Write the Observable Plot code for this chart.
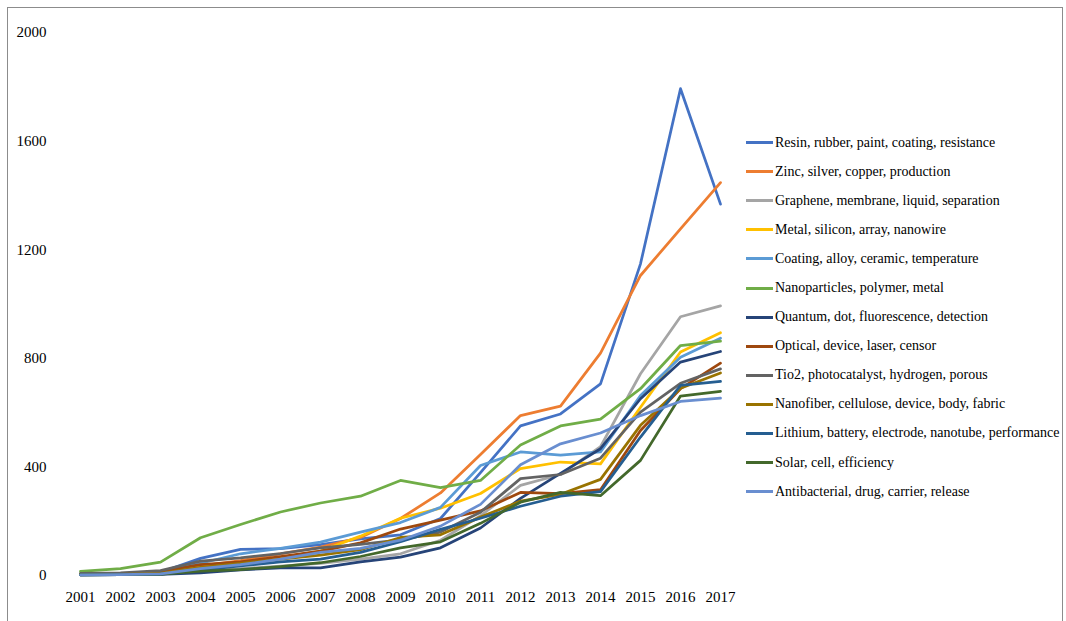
<!DOCTYPE html>
<html>
<head>
<meta charset="utf-8">
<script src="https://cdn.jsdelivr.net/npm/d3@7"></script>
<script src="https://cdn.jsdelivr.net/npm/@observablehq/plot@0.6"></script>
<style>
  html, body { margin: 0; padding: 0; background: #fff; }
  #wrap { position: relative; width: 1066px; height: 621px; overflow: hidden; font-family: "Liberation Serif", "Times New Roman", serif; }
  #frame { position: absolute; left: 7px; top: 7px; width: 1056px; height: 640px; border: 1.5px solid #8c8c8c; box-sizing: border-box; }
  #chart { position: absolute; left: 0; top: 0; }
  #legend { position: absolute; left: 746px; top: 128px; }
  .item { display: flex; align-items: center; height: 29.1px; font-size: 14px; color: #000; white-space: nowrap; }
  .sw { width: 27px; height: 3px; margin-right: 2px; }
</style>
</head>
<body>
<div id="wrap">
  <div id="frame"></div>
  <div id="chart"></div>
  <div id="legend"></div>
</div>
<script>
const years = [2001,2002,2003,2004,2005,2006,2007,2008,2009,2010,2011,2012,2013,2014,2015,2016,2017];
const yTicks = [0, 400, 800, 1200, 1600, 2000];

const seriesNames = [
  "Resin, rubber, paint, coating, resistance",
  "Zinc, silver, copper, production",
  "Graphene, membrane, liquid, separation",
  "Metal, silicon, array, nanowire",
  "Coating, alloy, ceramic, temperature",
  "Nanoparticles, polymer, metal",
  "Quantum, dot, fluorescence, detection",
  "Optical, device, laser, censor",
  "Tio2, photocatalyst, hydrogen, porous",
  "Nanofiber, cellulose, device, body, fabric",
  "Lithium, battery, electrode, nanotube, performance",
  "Solar, cell, efficiency",
  "Antibacterial, drug, carrier, release"
];
const seriesColors = ["#4472C4","#ED7D31","#A5A5A5","#FFC000","#5B9BD5","#70AD47","#264478","#9E480E","#636363","#997300","#255E91","#43682B","#698ED0"];

const resin         = [5,5,12,63,96,99,114,135,150,210,379,551,595,706,1148,1793,1368];
const zinc          = [5,5,15,35,55,80,105,140,210,304,446,589,624,819,1105,1277,1447];
const graphene      = [2,3,5,15,25,35,45,60,80,130,220,332,372,475,743,953,993];
const metal         = [3,4,8,30,45,65,90,145,211,248,302,394,418,411,620,823,894];
const coating       = [3,4,8,45,80,100,123,160,195,251,405,455,443,455,663,804,874];
const nanoparticles = [15,25,49,139,188,234,267,292,350,324,350,481,551,576,688,847,863];
const quantum       = [2,3,4,10,21,28,28,50,68,102,175,284,376,467,651,786,825];
const optical       = [5,6,15,40,50,70,90,120,171,204,238,306,302,316,534,688,782];
const tio2          = [8,10,18,53,65,81,102,115,131,160,233,357,372,432,602,708,761];
const nanofiber     = [3,4,8,30,45,60,75,95,140,150,215,274,299,354,553,690,746];
const lithium       = [2,3,5,20,35,50,60,85,125,170,211,255,292,309,510,700,715];
const solar         = [2,3,5,16,22,33,47,70,102,124,192,270,306,294,424,661,678];
const antibacterial = [2,3,6,25,40,60,85,100,130,182,262,408,485,525,589,641,653];

const seriesValues = [resin, zinc, graphene, metal, coating, nanoparticles, quantum, optical, tio2, nanofiber, lithium, solar, antibacterial];

const rows = [];
seriesNames.forEach((name, i) => {
  years.forEach((yr, j) => rows.push({series: name, year: yr, value: seriesValues[i][j]}));
});

const chart = Plot.plot({
  width: 1066,
  height: 621,
  marginLeft: 57,
  marginRight: 323,
  marginTop: 32,
  marginBottom: 46,
  style: {fontFamily: '"Liberation Serif", "Times New Roman", serif', fontSize: "15px", color: "#000", background: "transparent"},
  x: {type: "point", domain: years, padding: 0.5, label: null},
  y: {domain: [0, 2000], label: null},
  color: {domain: seriesNames, range: seriesColors},
  marks: [
    Plot.gridY(yTicks, {stroke: "#d9d9d9", strokeOpacity: 1, strokeWidth: 1.5, x1: 57, x2: 741}),
    Plot.axisY(yTicks, {tickSize: 0, tickPadding: 11, label: null, fill: "#000", tickFormat: d => String(d)}),
    Plot.axisX(years, {tickSize: 0, tickPadding: 16, label: null, fill: "#000", tickFormat: d => String(d)}),
    Plot.line(rows, {x: "year", y: "value", z: "series", stroke: "series", strokeWidth: 2.75, strokeLinejoin: "round", strokeLinecap: "round"})
  ]
});
document.getElementById("chart").appendChild(chart);

const legend = document.getElementById("legend");
seriesNames.forEach((name, i) => {
  const item = document.createElement("div");
  item.className = "item";
  const sw = document.createElement("span");
  sw.className = "sw";
  sw.style.background = seriesColors[i];
  const t = document.createElement("span");
  t.textContent = name;
  item.appendChild(sw);
  item.appendChild(t);
  legend.appendChild(item);
});
</script>
</body>
</html>
